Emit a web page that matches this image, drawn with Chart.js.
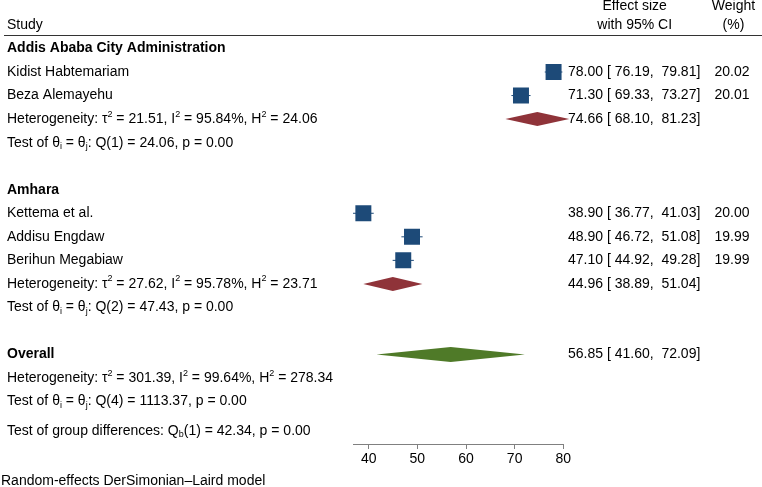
<!DOCTYPE html>
<html><head><meta charset="utf-8">
<script src="https://cdn.jsdelivr.net/npm/chart.js@4.4.1/dist/chart.umd.min.js"></script>
<style>html,body{margin:0;padding:0;background:#fff}#wrap{width:762px;height:487px}</style>
</head><body><div id="wrap"><canvas id="c" width="762" height="487"></canvas></div>
<script>
// ---------------- data ----------------
const groupNames = ["Addis Ababa City Administration", "Amhara"];
const studies    = ["Kidist Habtemariam", "Beza Alemayehu", "Kettema et al.", "Addisu Engdaw", "Berihun Megabiaw"];
const studyGroup = [0, 0, 1, 1, 1];
const effect     = [78.00, 71.30, 38.90, 48.90, 47.10];
const lower      = [76.19, 69.33, 36.77, 46.72, 44.92];
const upper      = [79.81, 73.27, 41.03, 51.08, 49.28];
const weight     = [20.02, 20.01, 20.00, 19.99, 19.99];

const subEffect = [74.66, 44.96];
const subLower  = [68.10, 38.89];
const subUpper  = [81.23, 51.04];
const subTau2   = [21.51, 27.62];
const subI2     = [95.84, 95.78];
const subH2     = [24.06, 23.71];
const subQ      = [24.06, 47.43];
const subDf     = [1, 2];
const subP      = [0.00, 0.00];

const overallEffect = 56.85, overallLower = 41.60, overallUpper = 72.09;
const overallTau2 = 301.39, overallI2 = 99.64, overallH2 = 278.34;
const overallQ = 1113.37, overallDf = 4, overallP = 0.00;
const groupDiffQ = 42.34, groupDiffDf = 1, groupDiffP = 0.00;

const xTicks = [40, 50, 60, 70, 80];

// ---------------- style ----------------
const FONT = '"Liberation Sans", Arial, Helvetica, sans-serif';
const FS = 14;
const SQUARE_COLOR = '#1d4a78';
const SUB_COLOR = '#8f3339';
const OVERALL_COLOR = '#4f7a28';
const f2 = v => v.toFixed(2);
const p6 = v => f2(v).padStart(6, ' ');

// ---------------- row layout ----------------
const rows = [];
let r = 1;
const studyRow = [], subRow = [];
groupNames.forEach((g, gi) => {
  rows.push({y: r++, left: g, bold: true});
  studies.forEach((s, i) => {
    if (studyGroup[i] !== gi) return;
    studyRow[i] = r;
    rows.push({y: r++, left: s,
      right1: `${f2(effect[i])} [${p6(lower[i])}, ${p6(upper[i])}]`,
      right2: f2(weight[i])});
  });
  subRow[gi] = r;
  rows.push({y: r++, left: `Heterogeneity: τ^2 = ${f2(subTau2[gi])}, I^2 = ${f2(subI2[gi])}%, H^2 = ${f2(subH2[gi])}`,
    right1: `${f2(subEffect[gi])} [${p6(subLower[gi])}, ${p6(subUpper[gi])}]`});
  rows.push({y: r++, left: `Test of θ_i = θ_j: Q(${subDf[gi]}) = ${f2(subQ[gi])}, p = ${f2(subP[gi])}`});
  r++; // blank
});
const overallRow = r;
rows.push({y: r++, left: 'Overall', bold: true,
  right1: `${f2(overallEffect)} [${p6(overallLower)}, ${p6(overallUpper)}]`});
rows.push({y: r++, left: `Heterogeneity: τ^2 = ${f2(overallTau2)}, I^2 = ${f2(overallI2)}%, H^2 = ${f2(overallH2)}`});
rows.push({y: r++, left: `Test of θ_i = θ_j: Q(${overallDf}) = ${f2(overallQ)}, p = ${f2(overallP)}`});
rows.push({y: r + 0.24, left: `Test of group differences: Q_b(${groupDiffDf}) = ${f2(groupDiffQ)}, p = ${f2(groupDiffP)}`});

const diamonds = [
  ...subEffect.map((e, i) => ({row: subRow[i], est: e, lo: subLower[i], hi: subUpper[i], color: SUB_COLOR, h: 7})),
  {row: overallRow, est: overallEffect, lo: overallLower, hi: overallUpper, color: OVERALL_COLOR, h: 7.5}
];

// ---------------- datasets ----------------
const ciSets = studies.map((s, i) => ({
  type: 'scatter', showLine: true, borderColor: SQUARE_COLOR, borderWidth: 1,
  pointRadius: 0, data: [{x: lower[i], y: studyRow[i]}, {x: upper[i], y: studyRow[i]}], order: 2
}));
const squareSet = {
  type: 'scatter', label: 'Studies',
  data: studies.map((s, i) => ({x: effect[i], y: studyRow[i]})),
  pointStyle: 'rect', pointRadius: 11.3, pointHoverRadius: 11.3,
  backgroundColor: SQUARE_COLOR, borderColor: SQUARE_COLOR, borderWidth: 0, order: 1
};

// ---------------- rich text ----------------
function drawRich(ctx, str, x, y, size, bold) {
  let cx = x, i = 0;
  const base = (bold ? 'bold ' : '') + size + 'px ' + FONT;
  const small = Math.round(size * 0.62) + 'px ' + FONT;
  while (i < str.length) {
    const ch = str[i];
    if (ch === '^' || ch === '_') {
      let t;
      if (str[i + 1] === '{') { const e = str.indexOf('}', i); t = str.slice(i + 2, e); i = e + 1; }
      else { t = str[i + 1]; i += 2; }
      ctx.font = small;
      const dy = ch === '^' ? -size * 0.36 : size * 0.28;
      ctx.fillText(t, cx, y + dy);
      cx += ctx.measureText(t).width;
    } else {
      let j = i;
      while (j < str.length && str[j] !== '^' && str[j] !== '_') j++;
      const t = str.slice(i, j);
      ctx.font = base;
      ctx.fillText(t, cx, y);
      cx += ctx.measureText(t).width;
      i = j;
    }
  }
}

const forestPlugin = {
  id: 'forest',
  afterDatasetsDraw(chart) {
    const {ctx, scales: {x, y}} = chart;
    ctx.save();
    diamonds.forEach(d => {
      const yc = y.getPixelForValue(d.row);
      ctx.beginPath();
      ctx.moveTo(x.getPixelForValue(d.lo), yc);
      ctx.lineTo(x.getPixelForValue(d.est), yc - d.h);
      ctx.lineTo(x.getPixelForValue(d.hi), yc);
      ctx.lineTo(x.getPixelForValue(d.est), yc + d.h);
      ctx.closePath();
      ctx.fillStyle = d.color;
      ctx.fill();
    });
    ctx.restore();
  },
  afterDraw(chart) {
    const {ctx, scales: {y}} = chart;
    ctx.save();
    ctx.fillStyle = '#000';
    ctx.textBaseline = 'middle';
    ctx.textAlign = 'left';
    ctx.font = FS + 'px ' + FONT;
    ctx.fillText('Study', 7, 25);
    ctx.textAlign = 'center';
    ctx.fillText('Effect size', 634.7, 6);
    ctx.fillText('with 95% CI', 634.7, 25);
    ctx.fillText('Weight', 733.5, 6);
    ctx.fillText('(%)', 733.5, 25);
    ctx.strokeStyle = '#333';
    ctx.lineWidth = 1;
    ctx.beginPath(); ctx.moveTo(4, 35.5); ctx.lineTo(762, 35.5); ctx.stroke();
    rows.forEach(row => {
      const py = y.getPixelForValue(row.y);
      ctx.textAlign = 'left';
      drawRich(ctx, row.left, 7, py, FS, row.bold);
      ctx.font = FS + 'px ' + FONT;
      if (row.right1) { ctx.textAlign = 'left'; ctx.fillText(row.right1, 568, py); }
      if (row.right2) { ctx.textAlign = 'right'; ctx.fillText(row.right2, 749.5, py); }
    });
    ctx.textAlign = 'left';
    ctx.font = FS + 'px ' + FONT;
    ctx.fillText('Random-effects DerSimonian–Laird model', 1, 481);
    ctx.restore();
  }
};

new Chart(document.getElementById('c'), {
  type: 'scatter',
  data: {datasets: [...ciSets, squareSet]},
  options: {
    responsive: false, animation: false,
    layout: {padding: {left: 353, right: 198.7, top: 36.7, bottom: 0}},
    plugins: {legend: {display: false}, tooltip: {enabled: false}},
    events: [],
    scales: {
      x: {
        type: 'linear',
        min: Math.min(...lower, ...subLower, overallLower),
        max: xTicks[xTicks.length - 1],
        afterBuildTicks: s => { s.ticks = xTicks.map(v => ({value: v})); },
        afterFit: s => { s.height = 43; },
        grid: {display: true, drawOnChartArea: false, drawTicks: true, tickLength: 5, color: '#808080', lineWidth: 1},
        border: {display: true, color: '#808080', width: 1},
        ticks: {color: '#000', font: {family: FONT, size: FS}, padding: 2, maxRotation: 0, autoSkip: false,
                callback: v => String(v)}
      },
      y: {
        type: 'linear', reverse: true, min: 0.5, max: 17.8, display: false
      }
    }
  },
  plugins: [forestPlugin]
});
</script></body></html>
